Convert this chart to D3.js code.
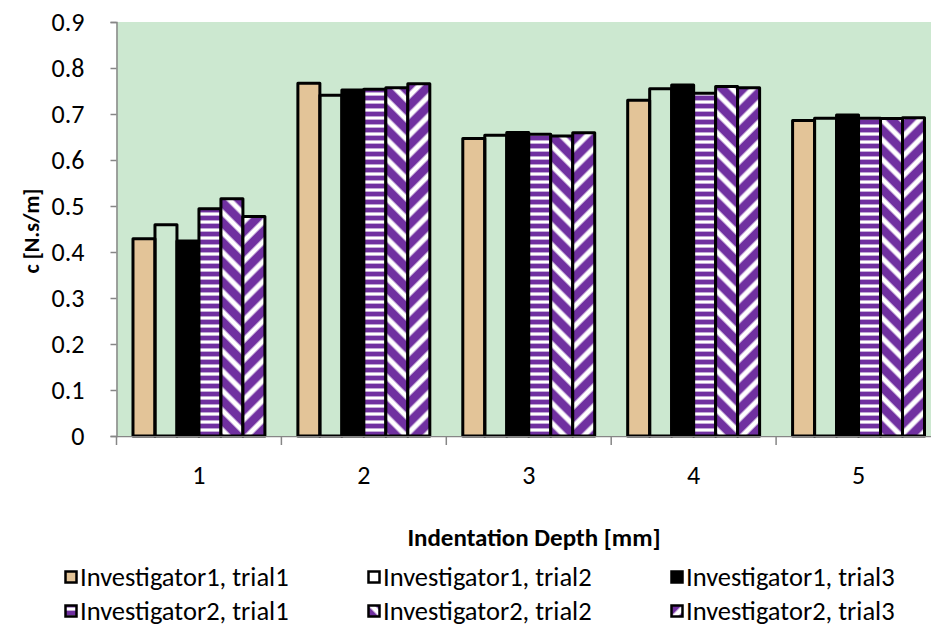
<!DOCTYPE html>
<html>
<head>
<meta charset="utf-8">
<script src="https://cdn.jsdelivr.net/npm/d3@7"></script>
<style>
  html, body { margin: 0; padding: 0; background: #ffffff; }
  svg { display: block; font-family: Carlito, Lato, "Open Sans", sans-serif; }
</style>
</head>
<body>
<div id="chart"></div>
<script>
// Damping coefficient per indentation depth, two investigators x three trials
const depths = ["1", "2", "3", "4", "5"];
const seriesNames = [
  "Investigator1, trial1", "Investigator1, trial2", "Investigator1, trial3",
  "Investigator2, trial1", "Investigator2, trial2", "Investigator2, trial3"
];
const inv1trial1 = [0.429, 0.767, 0.647, 0.730, 0.686];
const inv1trial2 = [0.459, 0.741, 0.654, 0.755, 0.691];
const inv1trial3 = [0.424, 0.752, 0.660, 0.763, 0.698];
const inv2trial1 = [0.494, 0.754, 0.656, 0.745, 0.691];
const inv2trial2 = [0.516, 0.757, 0.652, 0.760, 0.690];
const inv2trial3 = [0.477, 0.766, 0.659, 0.757, 0.692];
const yTicks = [0, 0.1, 0.2, 0.3, 0.4, 0.5, 0.6, 0.7, 0.8, 0.9];

const seriesValues = [inv1trial1, inv1trial2, inv1trial3, inv2trial1, inv2trial2, inv2trial3];

const W = 932, H = 629;
const plot = { left: 116.5, top: 22, right: 941, bottom: 436 };
const FONT = "Carlito, Lato, sans-serif";

const svg = d3.select("#chart").append("svg")
  .attr("width", W).attr("height", H);

// ---- fill patterns ----
const defs = svg.append("defs");
const purple = "#7030A0";

// horizontal purple / white stripes
const pH = defs.append("pattern").attr("id", "pat-h")
  .attr("patternUnits", "userSpaceOnUse").attr("width", 8).attr("height", 8);
pH.append("rect").attr("width", 8).attr("height", 8).attr("fill", "#ffffff");
pH.append("rect").attr("y", 0).attr("width", 8).attr("height", 4.2).attr("fill", purple);
pH.append("rect").attr("y", 4.2).attr("width", 8).attr("height", 0.8).attr("fill", "#b89ad0");
pH.append("rect").attr("y", 7.2).attr("width", 8).attr("height", 0.8).attr("fill", "#b89ad0");

// diagonal stripes, two directions
function diagPattern(id, angle) {
  const p = defs.append("pattern").attr("id", id)
    .attr("patternUnits", "userSpaceOnUse")
    .attr("width", 14).attr("height", 14)
    .attr("patternTransform", `rotate(${angle})`);
  p.append("rect").attr("width", 14).attr("height", 14).attr("fill", purple);
  p.append("rect").attr("x", 5).attr("width", 4).attr("height", 14).attr("fill", "#ffffff");
  p.append("rect").attr("x", 4).attr("width", 1).attr("height", 14).attr("fill", "#c4a8d8");
  p.append("rect").attr("x", 9).attr("width", 1).attr("height", 14).attr("fill", "#c4a8d8");
}
diagPattern("pat-d1", -45);
diagPattern("pat-d2", 45);

// mottled tan texture as a tiled pattern
const tanFilter = defs.append("filter").attr("id", "tan-noise")
  .attr("x", 0).attr("y", 0).attr("width", 1).attr("height", 1)
  .attr("filterUnits", "userSpaceOnUse");
tanFilter.append("feTurbulence").attr("type", "fractalNoise")
  .attr("baseFrequency", 0.18).attr("numOctaves", 2).attr("seed", 3).attr("result", "n");
tanFilter.append("feColorMatrix").attr("in", "n").attr("type", "matrix")
  .attr("values", "0 0 0 0 0.78  0 0 0 0 0.64  0 0 0 0 0.46  0 0 0 0.7 -0.28");
const pT = defs.append("pattern").attr("id", "pat-tan")
  .attr("patternUnits", "userSpaceOnUse").attr("width", 60).attr("height", 60);
pT.append("rect").attr("width", 60).attr("height", 60).attr("fill", "#E3C498");
pT.append("rect").attr("width", 60).attr("height", 60).attr("filter", "url(#tan-noise)");

const fills = ["url(#pat-tan)", "none", "#000000", "url(#pat-h)", "url(#pat-d1)", "url(#pat-d2)"];

// ---- scales ----
const x0 = d3.scaleBand().domain(depths).range([plot.left, plot.right]).paddingInner(0).paddingOuter(0);
const barW = x0.bandwidth() / 7.5;
const x1 = d3.scaleBand().domain(d3.range(6)).range([barW * 0.75, barW * 6.75]).padding(0);
const y = d3.scaleLinear().domain([0, 0.9]).range([plot.bottom, plot.top]);

// clip to the visible canvas
defs.append("clipPath").attr("id", "clip-plot")
  .append("rect").attr("x", plot.left).attr("y", 0).attr("width", W - plot.left - 1).attr("height", H);

// plot background
svg.append("rect")
  .attr("x", plot.left).attr("y", plot.top)
  .attr("width", W - 1 - plot.left).attr("height", plot.bottom - plot.top)
  .attr("fill", "#CCE8D0");

// ---- bars ----
const rows = [];
depths.forEach((d, i) => {
  seriesValues.forEach((vals, s) => rows.push({ depth: d, s, v: vals[i] }));
});

const barG = svg.append("g").attr("clip-path", "url(#clip-plot)");
barG.selectAll("rect.bar").data(rows).join("rect")
  .attr("class", "bar")
  .attr("x", d => x0(d.depth) + x1(d.s))
  .attr("y", d => y(d.v))
  .attr("width", x1.bandwidth())
  .attr("height", d => y(0) - y(d.v))
  .attr("fill", d => fills[d.s])
  .attr("stroke", "#000")
  .attr("stroke-width", 3)
  .attr("stroke-linejoin", "round");

// ---- axes ----
const axisColor = "#868686";
const yAxis = svg.append("g")
  .attr("transform", `translate(${plot.left},0)`)
  .call(d3.axisLeft(y).tickValues(yTicks).tickSize(6).tickPadding(26)
    .tickFormat(d => d === 0 ? "0" : d3.format(".1f")(d)));
yAxis.select(".domain").attr("stroke", axisColor).attr("stroke-width", 1.5);
yAxis.selectAll(".tick line").attr("stroke", axisColor).attr("stroke-width", 1.5);
yAxis.selectAll(".tick text")
  .attr("font-size", 26).attr("fill", "#000")
  .style("font-family", FONT);

const xAxis = svg.append("g")
  .attr("transform", `translate(0,${plot.bottom})`)
  .attr("clip-path", "url(#clip-plot)")
  .call(d3.axisBottom(x0).tickSize(0).tickPadding(30));
xAxis.select(".domain").attr("stroke", axisColor).attr("stroke-width", 1.5);
xAxis.selectAll(".tick text")
  .attr("font-size", 26).attr("fill", "#000")
  .style("font-family", FONT);
// category boundary ticks
const bounds = depths.map(d => x0(d)).concat([plot.right]);
svg.append("g").selectAll("line").data(bounds).join("line")
  .attr("x1", d => d).attr("x2", d => d)
  .attr("y1", plot.bottom).attr("y2", plot.bottom + 9)
  .attr("stroke", axisColor).attr("stroke-width", 1.5);

// ---- axis titles ----
svg.append("text")
  .attr("transform", `translate(31,231) rotate(-90)`)
  .attr("text-anchor", "middle").attr("dy", "0.35em")
  .attr("font-size", 22).attr("font-weight", "bold")
  .text("c [N.s/m]");

svg.append("text")
  .attr("x", 534).attr("y", 537).attr("dy", "0.35em")
  .attr("text-anchor", "middle")
  .attr("font-size", 25).attr("font-weight", "bold")
  .text("Indentation Depth [mm]");

// ---- legend ----
const legX = [64, 367, 670];
const legY = [577, 611];
const legend = svg.append("g");
seriesNames.forEach((name, s) => {
  const col = s % 3, row = Math.floor(s / 3);
  const g = legend.append("g").attr("transform", `translate(${legX[col]},${legY[row]})`);
  g.append("rect")
    .attr("x", 1.5).attr("y", -5.5).attr("width", 11).attr("height", 11)
    .attr("fill", fills[s])
    .attr("stroke", "#000").attr("stroke-width", 2.5);
  g.append("text")
    .attr("x", 16).attr("y", 0).attr("dy", "0.35em")
    .attr("font-size", 26.5)
    .text(name);
});
</script>
</body>
</html>
